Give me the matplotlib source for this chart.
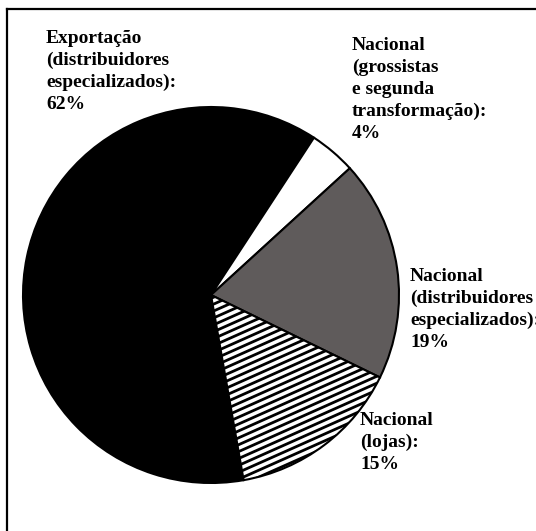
import matplotlib.pyplot as plt
import numpy as np

# data
labels = ['Exportação\n(distribuidores\nespecializados):\n62%',
          'Nacional\n(grossistas\ne segunda\ntransformação):\n4%',
          'Nacional\n(distribuidores\nespecializados):\n19%',
          'Nacional\n(lojas):\n15%']
values = [62, 4, 19, 15]
colors = ['black', 'white', '#5f5b5b', 'white']

W, H = 536, 531
fig = plt.figure(figsize=(W / 100, H / 100), dpi=100)
ax = fig.add_axes([0, 0, 1, 1])

wedges, _ = ax.pie(values, colors=colors, startangle=-80, counterclock=False,
                   center=(211, H - 295), radius=188, frame=True,
                   wedgeprops=dict(edgecolor='black', linewidth=1.5))
ax.set_xlim(0, W)
ax.set_ylim(0, H)
ax.set_aspect('equal')
ax.axis('off')

# low-angle stripes for the "lojas" slice
w = wedges[3]
ang = np.deg2rad(24)
d = np.array([np.cos(ang), np.sin(ang)])
n = np.array([-np.sin(ang), np.cos(ang)])
for k in np.arange(-400, 400, 6.3):
    p0 = np.array([211, H - 295]) + n * k - d * 400
    p1 = p0 + d * 800
    ln, = ax.plot([p0[0], p1[0]], [p0[1], p1[1]], color='black', lw=2.0,
                  solid_capstyle='butt')
    ln.set_clip_path(w)

# frame (left and top edges)
ax.plot([7, 7], [0, H - 9], color='black', lw=1.6)
ax.plot([7, W], [H - 9, H - 9], color='black', lw=1.6)

font = dict(family='Liberation Serif', weight='bold', fontsize=14,
            va='top', ha='left', linespacing=1.36)
pos = [(46, 30), (352, 37), (410, 268), (360, 412)]
for lab, (x, y) in zip(labels, pos):
    ax.text(x, H - y, lab, **font)

fig.savefig('out.png', dpi=100)
